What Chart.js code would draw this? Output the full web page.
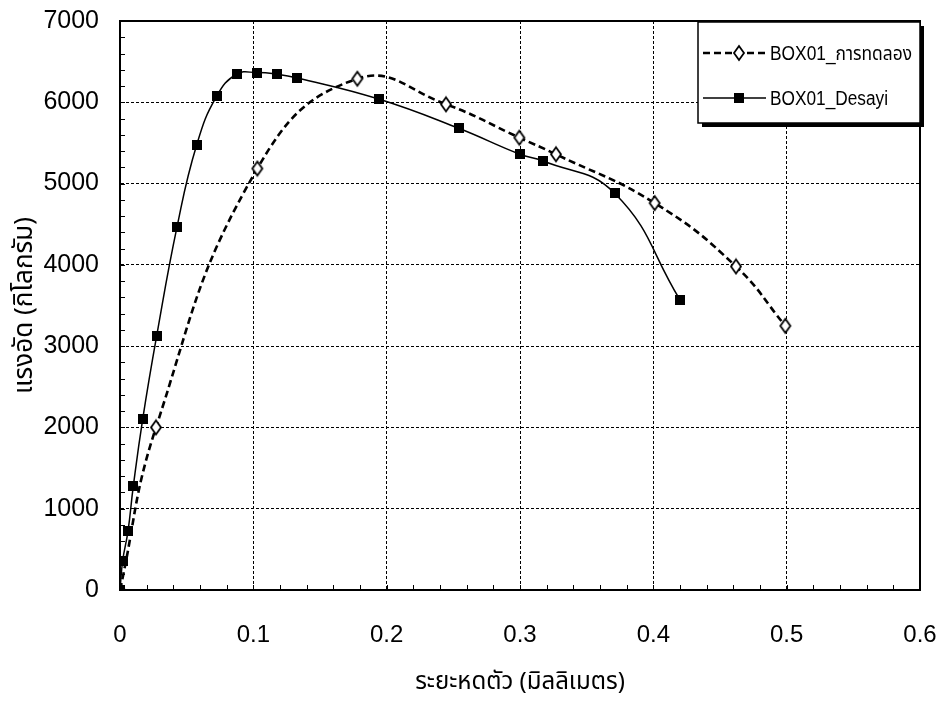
<!DOCTYPE html>
<html>
<head>
<meta charset="utf-8">
<script src="https://cdn.jsdelivr.net/npm/chart.js@4/dist/chart.umd.min.js"></script>
<style>
html,body{margin:0;padding:0;background:#fff;}
#c{display:block;}
</style>
</head>
<body>
<canvas id="c" width="942" height="702"></canvas>
<script>
// ---- data ----
const seriesNames = ['BOX01_การทดลอง', 'BOX01_Desayi'];
const expX = [0, 0.027, 0.103, 0.178, 0.2445, 0.2995, 0.327, 0.401, 0.462, 0.499];
const expY = [0, 2000, 5185, 6290, 5975, 5565, 5360, 4760, 3980, 3250];
const desX = [0, 0.002, 0.006, 0.010, 0.017, 0.0275, 0.0428, 0.0575, 0.0725, 0.0875, 0.103, 0.118, 0.133, 0.194, 0.254, 0.300, 0.317, 0.371, 0.420];
const desY = [0, 360, 725, 1280, 2100, 3125, 4470, 5475, 6075, 6345, 6365, 6345, 6300, 6040, 5680, 5360, 5280, 4880, 3570];
const xTicks = [0, 0.1, 0.2, 0.3, 0.4, 0.5, 0.6];
const yTicks = [0, 1000, 2000, 3000, 4000, 5000, 6000, 7000];
const xTitle = 'ระยะหดตัว (มิลลิเมตร)';
const yTitle = 'แรงอัด (กิโลกรัม)';

const thaiFont = "'Noto Sans Thai','Loma','Garuda','Norasi','DejaVu Sans','Liberation Sans',sans-serif";
const numFont = "'Liberation Sans', Arial, sans-serif";
const legFont = "'Liberation Sans','Noto Sans Thai','Loma',sans-serif";

function makeDiamond(w, h) {
  const c = document.createElement('canvas');
  c.width = w + 4; c.height = h + 4;
  const g = c.getContext('2d');
  const cx = c.width / 2, cy = c.height / 2;
  g.beginPath();
  g.moveTo(cx, cy - h / 2); g.lineTo(cx + w / 2, cy); g.lineTo(cx, cy + h / 2); g.lineTo(cx - w / 2, cy);
  g.closePath();
  g.fillStyle = '#fff'; g.fill();
  g.lineWidth = 1.8; g.strokeStyle = '#000'; g.stroke();
  return c;
}
function makeSquare(s) {
  const c = document.createElement('canvas');
  c.width = s; c.height = s;
  const g = c.getContext('2d');
  g.fillStyle = '#000'; g.fillRect(0, 0, s, s);
  return c;
}
const diamondImg = makeDiamond(10, 14);
const squareImg = makeSquare(10);

const bgPlugin = {
  id: 'bg',
  beforeDraw(chart) {
    const ctx = chart.ctx;
    ctx.save(); ctx.fillStyle = '#fff'; ctx.fillRect(0, 0, chart.width, chart.height); ctx.restore();
  }
};

function fitText(ctx, text, x, y, targetW) {
  const w = ctx.measureText(text).width;
  const k = Math.min(1, targetW / w);
  ctx.save();
  ctx.translate(x, y);
  ctx.scale(k, 1);
  ctx.fillText(text, 0, 0);
  ctx.restore();
}

const framePlugin = {
  id: 'frame',
  afterDatasetsDraw(chart) {
    const {ctx, chartArea: a, scales} = chart;
    ctx.save();
    ctx.strokeStyle = '#000';
    ctx.lineWidth = 1;
    ctx.beginPath();
    for (let i = 0; i <= 30; i++) {
      const v = i * 0.02;
      const px = Math.round(scales.x.getPixelForValue(v)) + 0.5;
      ctx.moveTo(px, a.bottom); ctx.lineTo(px, a.bottom - 5);
    }
    for (let i = 0; i <= 35; i++) {
      const v = i * 200;
      const py = Math.round(scales.y.getPixelForValue(v)) + 0.5;
      ctx.moveTo(a.left, py); ctx.lineTo(a.left + 5, py);
    }
    ctx.stroke();
    ctx.lineWidth = 2;
    ctx.strokeRect(a.left, a.top, a.right - a.left, a.bottom - a.top);
    ctx.restore();
  },
  afterDraw(chart) {
    const {ctx, chartArea: a} = chart;
    const bx = 698, by = 22, bw = a.right - 698, bh = 101;
    ctx.save();
    ctx.fillStyle = '#000';
    ctx.fillRect(bx + 4, by + bh, bw, 4);
    ctx.fillRect(bx + bw, by + 4, 4, bh);
    ctx.fillStyle = '#fff';
    ctx.fillRect(bx, by, bw, bh);
    ctx.lineWidth = 1.5;
    ctx.strokeStyle = '#000';
    ctx.strokeRect(bx, by, bw, bh);
    const ds = chart.data.datasets;
    const rows = [53, 98];
    const widths = [142, 118];
    ds.forEach((d, i) => {
      const y = rows[i];
      ctx.beginPath();
      ctx.lineWidth = d.borderWidth;
      ctx.setLineDash(d.borderDash || []);
      ctx.moveTo(703, y); ctx.lineTo(766, y);
      ctx.stroke();
      ctx.setLineDash([]);
      const img = d.pointStyle;
      ctx.drawImage(img, Math.round(739 - img.width / 2), Math.round(y - img.height / 2));
      ctx.fillStyle = '#000';
      ctx.font = "20px " + legFont;
      ctx.textBaseline = 'middle';
      ctx.textAlign = 'left';
      fitText(ctx, d.label, 770, y + 1, widths[i]);
    });
    ctx.restore();
  }
};

new Chart(document.getElementById('c'), {
  type: 'scatter',
  data: {
    datasets: [
      {
        label: seriesNames[0],
        data: expX.map((x, i) => ({x, y: expY[i]})),
        showLine: true,
        borderColor: '#000',
        borderWidth: 2.6,
        borderDash: [7, 4],
        tension: 0.45,
        pointStyle: diamondImg,
        pointRadius: 7,
        order: 2
      },
      {
        label: seriesNames[1],
        data: desX.map((x, i) => ({x, y: desY[i]})),
        showLine: true,
        borderColor: '#000',
        borderWidth: 1.5,
        tension: 0.45,
        pointStyle: squareImg,
        pointRadius: 5,
        order: 1
      }
    ]
  },
  options: {
    responsive: false,
    animation: false,
    events: [],
    layout: {padding: {top: 21, right: 22, left: 0, bottom: 0}},
    plugins: {legend: {display: false}, tooltip: {enabled: false}},
    scales: {
      x: {
        type: 'linear', min: 0, max: 0.6,
        afterBuildTicks: s => { s.ticks = xTicks.map(v => ({value: v})); },
        afterFit: s => { s.height = 112; s.paddingRight = 0; s.paddingLeft = 0; },
        ticks: {
          color: '#000', padding: 31, font: {family: numFont, size: 24},
          callback: v => String(v)
        },
        grid: {color: '#000', lineWidth: 1, drawTicks: false},
        border: {display: true, color: '#000', width: 2, dash: [3, 2]},
        title: {display: true, text: xTitle, color: '#000', font: {family: thaiFont, size: 24}, padding: {top: 0, bottom: 3}}
      },
      y: {
        type: 'linear', min: 0, max: 7000,
        afterBuildTicks: s => { s.ticks = yTicks.map(v => ({value: v})); },
        afterFit: s => { s.width = 120; s.paddingTop = 0; s.paddingBottom = 0; },
        ticks: {
          color: '#000', padding: 21, font: {family: numFont, size: 25},
          callback: v => String(v)
        },
        grid: {color: '#000', lineWidth: 1, drawTicks: false},
        border: {display: true, color: '#000', width: 2, dash: [3, 2]},
        title: {display: true, text: yTitle, color: '#000', font: {family: thaiFont, size: 26}, padding: {top: 11, bottom: 0}}
      }
    }
  },
  plugins: [bgPlugin, framePlugin]
});
</script>
</body>
</html>
